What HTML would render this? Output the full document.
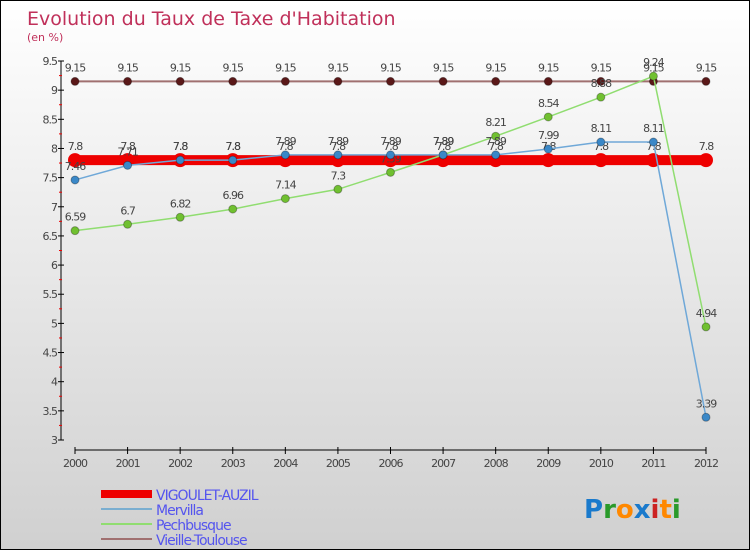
<!DOCTYPE html>
<html><head><meta charset="utf-8"><style>
body{margin:0}
#c{width:748px;height:548px;border:1px solid #000;background:linear-gradient(#fff,#d0d0d0);position:relative;font-family:"DejaVu Sans","Liberation Sans",sans-serif;overflow:hidden}
text{font-family:"DejaVu Sans","Liberation Sans",sans-serif}
</style></head><body>
<div id="c">
<svg id="s" width="748" height="548"></svg>
</div>
<script>
const years=[2000,2001,2002,2003,2004,2005,2006,2007,2008,2009,2010,2011,2012];
const vigoulet=[7.8,7.8,7.8,7.8,7.8,7.8,7.8,7.8,7.8,7.8,7.8,7.8,7.8];
const mervilla=[7.46,7.71,7.8,7.8,7.89,7.89,7.89,7.89,7.89,7.99,8.11,8.11,3.39];
const pechbusque=[6.59,6.7,6.82,6.96,7.14,7.3,7.59,7.89,8.21,8.54,8.88,9.24,4.94];
const vieille=[9.15,9.15,9.15,9.15,9.15,9.15,9.15,9.15,9.15,9.15,9.15,9.15,9.15];
const yTicks=[3,3.5,4,4.5,5,5.5,6,6.5,7,7.5,8,8.5,9,9.5];
const NS='http://www.w3.org/2000/svg';
const s=document.getElementById('s');
const X=i=>74+i*(705-74)/(years.length-1);
const Y=v=>60+(9.5-v)*(439-60)/6.5;
function el(t,a,p){const e=document.createElementNS(NS,t);for(const k in a)e.setAttribute(k,a[k]);(p||s).appendChild(e);return e;}
let t=el('text',{x:26,y:24,'font-size':19,fill:'#c0305a'});t.textContent="Evolution du Taux de Taxe d'Habitation";

t=el('text',{x:26,y:40,'font-size':11,fill:'#c0305a'});t.textContent="(en %)";

// axes
let a=el('line',{x1:60,y1:Y(9.5),x2:60,y2:Y(3),stroke:'#000'});

a=el('line',{x1:X(0),y1:449,x2:X(12),y2:449,stroke:'#000'});

yTicks.forEach(v=>{el('line',{x1:57,x2:63,y1:Y(v),y2:Y(v),stroke:'#000'});
 if(v<9.5)el('line',{x1:58,x2:61,y1:Y(v+0.25),y2:Y(v+0.25),stroke:'#e00'});
 const l=el('text',{x:56,y:Y(v)+4,'font-size':11,fill:'#444','text-anchor':'end','letter-spacing':'-1'});l.textContent=v;
 });
years.forEach((y,i)=>{el('line',{x1:X(i),x2:X(i),y1:446,y2:453,stroke:'#000'});
 const l=el('text',{x:X(i),y:466,'font-size':11,fill:'#444','text-anchor':'middle','letter-spacing':'-1'});l.textContent=y;
 });
function series(name,vals,color,w,r,dot){
 const g=el('g',{});
 el('polyline',{points:vals.map((v,i)=>X(i)+','+Y(v)).join(' '),fill:'none',stroke:color,'stroke-width':w},g);
 vals.forEach((v,i)=>{const c=el('circle',{cx:X(i),cy:Y(v),r:r,fill:dot,stroke:color==dot?'none':'rgba(0,0,0,.3)'},g);
  
  const l=el('text',{x:X(i),y:Y(v)-10,'font-size':11,fill:'#444','text-anchor':'middle','letter-spacing':'-1'},g);l.textContent=v;});
}
series('vieille-toulouse',vieille,'#a07070',2,4,'#5a1818');
series('vigoulet-auzil',vigoulet,'#ee0000',10,7,'#ee0000');
series('pechbusque',pechbusque,'#90dd70',1.5,4,'#70c030');
series('mervilla',mervilla,'#6fa8d8',1.5,4,'#3a88c8');
// legend
const leg=[['VIGOULET-AUZIL','#ee0000',8],['Mervilla','#7aaed0',2],['Pechbusque','#90dd70',2],['Vieille-Toulouse','#a07070',2]];
leg.forEach((d,i)=>{const y=493+i*15;
 const g=el('g',{});
 el('line',{x1:100,x2:151,y1:y,y2:y,stroke:d[1],'stroke-width':d[2]},g);
 const l=el('text',{x:155,y:y+6,'font-size':14,fill:'#5555ee','letter-spacing':'-1'},g);l.textContent=d[0];});
const lg=el('text',{x:583,y:517,'font-size':26,'font-weight':'bold'});
[['P','#1a7acc'],['r','#2a9a2a'],['o','#ff8800'],['x','#1a7acc'],['i','#cc2222'],['t','#ff8800'],['i','#2a9a2a']].forEach(c=>{el('tspan',{fill:c[1]},lg).textContent=c[0];});
</script>
</body></html>
